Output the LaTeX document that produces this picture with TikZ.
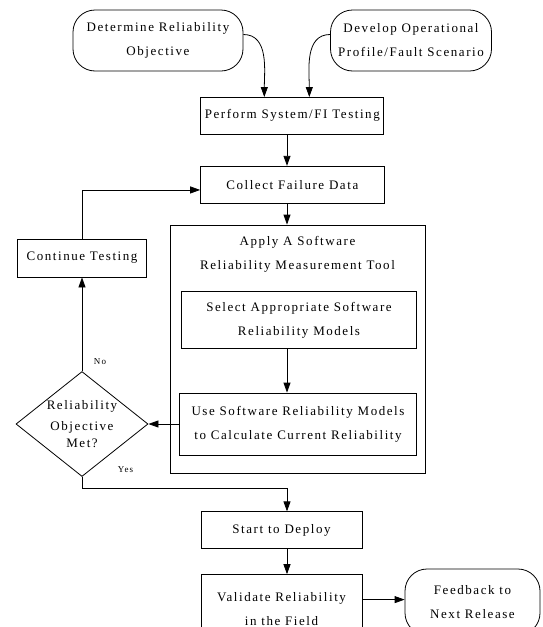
\documentclass[tikz,border=0pt]{standalone}
\usepackage{fontspec}
\setmainfont{Liberation Serif}[LetterSpace=12]
\usepackage{tikz}
\usetikzlibrary{arrows.meta,shapes.geometric,positioning}
\tikzstyle{stepbox} = [rectangle, draw, line width=0.8pt, inner sep=1pt, align=center, font=\fontsize{13pt}{24pt}\selectfont]
\tikzstyle{terminal} = [rectangle, rounded corners=22pt, draw, line width=0.8pt, inner sep=1pt, align=center, font=\fontsize{13pt}{24pt}\selectfont]
\tikzstyle{decision} = [diamond, aspect=1.26, draw, line width=0.8pt, inner sep=0pt, align=center, font=\fontsize{13pt}{21pt}\selectfont]
\tikzstyle{answer} = [inner sep=0pt, font=\fontsize{9pt}{10pt}\selectfont]
\tikzstyle{arrow} = [line width=0.8pt, -{Triangle[length=10pt,width=7pt]}]

\begin{document}
\begin{tikzpicture}[x=1pt, y=-1pt]
\useasboundingbox (0,0) rectangle (542,627);
\coordinate (axis) at (287,0);

% Start of the process
\node (det) [terminal, minimum width=170pt, minimum height=61pt] at (158,40.5) {Determine Reliability\\Objective};
\node (dev) [terminal, minimum width=161pt, minimum height=61pt] at (411,40.5) {Develop Operational\\Profile/Fault Scenario};
\node (perform) [stepbox, minimum width=183pt, minimum height=36.5pt] at (292.3,115.7) {Perform System/FI Testing};
\node (collect) [stepbox, minimum width=183.5pt, minimum height=37.4pt, below=31.5pt of perform] {Collect Failure Data};

% Measurement tool
\node (tool) [stepbox, minimum width=255pt, minimum height=248pt] at (297.5,349) {};
\node (tooltitle) [align=center, font=\fontsize{13pt}{24pt}\selectfont, below=8pt of tool.north] {Apply A Software\\Reliability Measurement Tool};
\node (select) [stepbox, minimum width=235.5pt, minimum height=56.7pt] at (299,320) {Select Appropriate Software\\Reliability Models};
\node (use) [stepbox, minimum width=236.8pt, minimum height=62pt] at (298,424) {Use Software Reliability Models\\to Calculate Current Reliability};

% Loop back
\node (met) [decision, minimum width=132pt, minimum height=105pt] at (82,424) {Reliability\\Objective\\[-4pt]Met?};
\node (continue) [stepbox, minimum width=128.6pt, minimum height=38pt] at (82,258) {Continue Testing};
\node (no) [answer] at (100,362) {No};
\node (yes) [answer] at (125.5,470) {Yes};

% Deployment
\node (start) [stepbox, minimum width=161pt, minimum height=37pt] at (281.5,530.3) {Start to Deploy};
\node (validate) [stepbox, minimum width=161pt, minimum height=68pt, below=25pt of start] {Validate Reliability\\in the Field};
\node (feedback) [terminal, minimum width=135pt, minimum height=66pt] at (472.5,602) {Feedback to\\Next Release};

% Arrows
\draw[arrow] ([yshift=6pt]det.east) to[out=0,in=90] ([xshift=-28pt]perform.north);
\draw[arrow] ([yshift=6pt]dev.west) to[out=180,in=90] ([xshift=17pt]perform.north);
\draw[arrow] (perform.south -| axis) -- (collect.north -| axis);
\draw[arrow] (collect.south -| axis) -- (tool.north -| axis);
\draw[arrow] (select.south -| axis) -- (use.north -| axis);
\draw[arrow] (use.west) -- (met.east);
\draw[arrow] (met.north) -- (continue.south);
\draw[arrow] (continue.north) |- ([yshift=-5pt]collect.west);
\draw[arrow] (met.south) -- ++(0,11) -| (start.north -| axis);
\draw[arrow] (start.south -| axis) -- (validate.north -| axis);
\draw[arrow] ([yshift=9pt]validate.east) -- ([yshift=9pt]validate.east -| feedback.west);
\end{tikzpicture}
\end{document}
